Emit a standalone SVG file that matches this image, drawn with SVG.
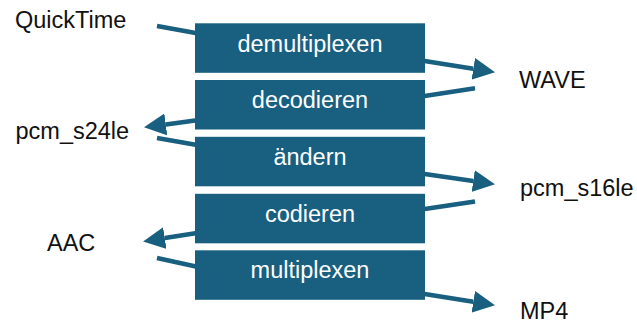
<svg xmlns="http://www.w3.org/2000/svg" width="637" height="323" viewBox="0 0 637 323">
<style>
.box{fill:#185f80}
.bt{font-family:"Liberation Sans",Arial,sans-serif;font-size:23.5px;fill:#ffffff;text-anchor:middle}
.lb{font-family:"Liberation Sans",Arial,sans-serif;font-size:23.5px;fill:#111111}
.cn{stroke:#185f80;stroke-width:4.5;fill:none}
</style>
<defs>
<marker id="ah" markerUnits="userSpaceOnUse" markerWidth="22" markerHeight="22" refX="0" refY="10" orient="auto" viewBox="0 0 20 20">
<path d="M0,0 L20,10 L0,20 Z" fill="#185f80"/>
</marker>
</defs>
<g id="connectors">
<line class="cn" x1="157" y1="26" x2="197" y2="33.3"/>
<line class="cn" x1="423" y1="60.7" x2="473.3" y2="68.8" marker-end="url(#ah)"/>
<line class="cn" x1="423" y1="96.2" x2="475" y2="88.3"/>
<line class="cn" x1="197" y1="120.3" x2="165.8" y2="124.4" marker-end="url(#ah)"/>
<line class="cn" x1="157" y1="138" x2="197" y2="145"/>
<line class="cn" x1="423" y1="173.7" x2="473.2" y2="181.1" marker-end="url(#ah)"/>
<line class="cn" x1="423" y1="209.3" x2="475" y2="201.5"/>
<line class="cn" x1="197" y1="233" x2="164.8" y2="238" marker-end="url(#ah)"/>
<line class="cn" x1="157" y1="258" x2="197" y2="266.8"/>
<line class="cn" x1="423" y1="293.7" x2="473.3" y2="301.8" marker-end="url(#ah)"/>
</g>
<g id="n-demultiplexen"><rect class="box" x="195" y="23.3" width="230" height="49.5"/><text class="bt" x="310" y="51.5">demultiplexen</text></g>
<g id="n-decodieren"><rect class="box" x="195" y="80" width="230" height="49.5"/><text class="bt" x="310" y="108.3">decodieren</text></g>
<g id="n-aendern"><rect class="box" x="195" y="136.8" width="230" height="49.5"/><text class="bt" x="310" y="165">ändern</text></g>
<g id="n-codieren"><rect class="box" x="195" y="193.8" width="230" height="49.5"/><text class="bt" x="310" y="221.8">codieren</text></g>
<g id="n-multiplexen"><rect class="box" x="195" y="250.3" width="230" height="49.5"/><text class="bt" x="310" y="278.3">multiplexen</text></g>
<g id="l-quicktime"><text class="lb" x="15" y="27.7">QuickTime</text></g>
<g id="l-pcm_s24le"><text class="lb" x="15.5" y="139">pcm_s24le</text></g>
<g id="l-aac"><text class="lb" x="47" y="251">AAC</text></g>
<g id="l-wave"><text class="lb" x="519" y="88.3">WAVE</text></g>
<g id="l-pcm_s16le"><text class="lb" x="520" y="196">pcm_s16le</text></g>
<g id="l-mp4"><text class="lb" x="520" y="318.5">MP4</text></g>
</svg>
